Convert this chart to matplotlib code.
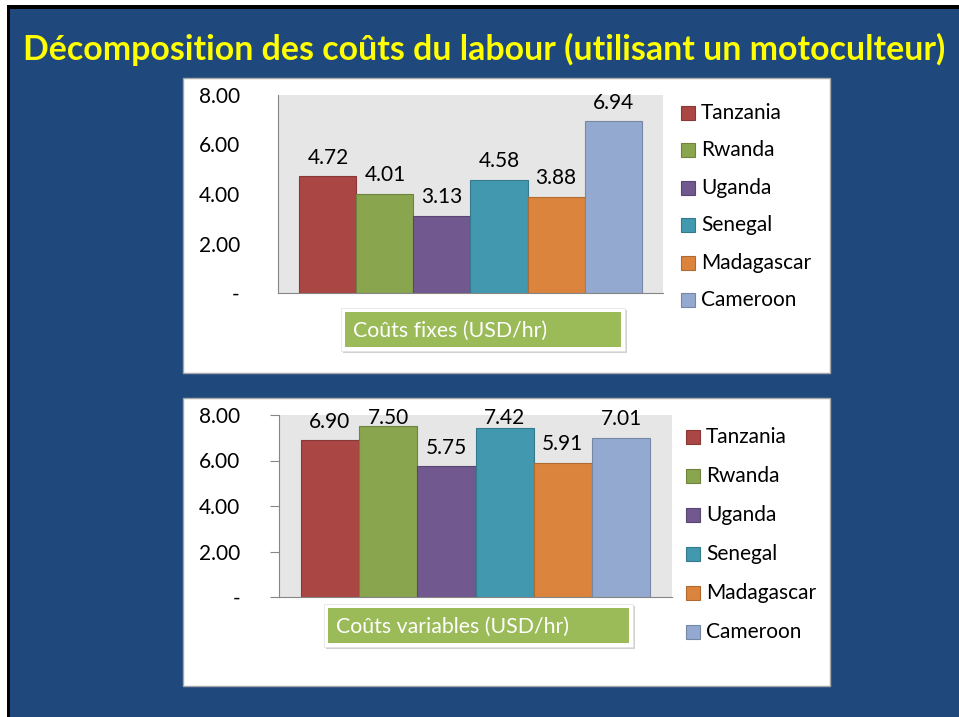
import matplotlib
matplotlib.use("Agg")
import matplotlib.pyplot as plt
from matplotlib.patches import Rectangle
import matplotlib.colors as mcolors

plt.rcParams['font.family'] = ['Lato', 'DejaVu Sans']

countries = ['Tanzania', 'Rwanda', 'Uganda', 'Senegal', 'Madagascar', 'Cameroon']
fixed_costs = [4.72, 4.01, 3.13, 4.58, 3.88, 6.94]
variable_costs = [6.90, 7.50, 5.75, 7.42, 5.91, 7.01]
colors = ['#AA4643', '#89A54E', '#71588F', '#4198AF', '#DB843D', '#93A9CF']
ytick_vals = [0, 2, 4, 6, 8]
ytick_labels = ['-', '2.00', '4.00', '6.00', '8.00']
title = 'Décomposition des coûts du labour (utilisant un motoculteur)'

W, H = 959, 717
BG = '#1F497D'
GREEN = '#9BBB59'

fig = plt.figure(figsize=(W / 100, H / 100), dpi=100, facecolor=BG)


def px_rect(x0, y0, x1, y1, **kw):
    r = Rectangle((x0 / W, 1 - y1 / H), (x1 - x0) / W, (y1 - y0) / H,
                  transform=fig.transFigure, **kw)
    fig.add_artist(r)
    return r


def darker(c, f=0.8):
    r, g, b = mcolors.to_rgb(c)
    return (r * f, g * f, b * f)


# slide frame
px_rect(0, 0, W, 5, facecolor='white', edgecolor='none', zorder=-3)
px_rect(0, 0, 7, H, facecolor='white', edgecolor='none', zorder=-3)
px_rect(7, 5, W, 9, facecolor='black', edgecolor='none', zorder=-2)
px_rect(7, 5, 10, H, facecolor='black', edgecolor='none', zorder=-2)

fig.text(484 / W, 1 - 49 / H, title, color='#FFFF00', fontsize=24.4,
         fontweight='bold', ha='center', va='center')


def chart(panel, plot, values, label_box, label_text, legend_pos, ticks):
    px_rect(*panel, facecolor='white', edgecolor='#A6A6A6', linewidth=1, zorder=-1)
    x0, y0, x1, y1 = plot
    ax = fig.add_axes([x0 / W, 1 - y1 / H, (x1 - x0) / W, (y1 - y0) / H])
    ax.set_facecolor('#E6E6E6')
    xs = range(len(values))
    ax.bar(xs, values, width=1.0, color=colors,
           edgecolor=[darker(c) for c in colors], linewidth=0.8)
    ax.set_xlim(-0.875, len(values) - 0.125)
    ax.set_ylim(0, 8)
    ppu = (y1 - y0) / 8.0
    for x, v in zip(xs, values):
        ly = min(v + 18.5 / ppu, 8 - 2.5 / ppu)
        ax.text(x, ly, '%.2f' % v, ha='center', va='center', fontsize=15,
                color='black')
    ax.set_yticks(ytick_vals)
    ax.set_yticklabels(ytick_labels)
    ax.set_xticks([])
    for s in ['top', 'right']:
        ax.spines[s].set_visible(False)
    for s in ['left', 'bottom']:
        ax.spines[s].set_color('#868686')
    if ticks:
        ax.tick_params(axis='y', length=6.5, color='#868686', pad=21.5, labelsize=15)
    else:
        ax.tick_params(axis='y', length=0, pad=27.5, labelsize=15)
    for t in ax.get_yticklabels():
        t.set_ha('right')

    # caption box
    bx0, by0, bx1, by1 = label_box
    px_rect(bx0 - 2, by0 - 2, bx1 + 6, by1 + 6, facecolor='#D0D0D0',
            edgecolor='none', zorder=1)
    px_rect(bx0 - 4, by0 - 4, bx1 + 4, by1 + 4, facecolor='white',
            edgecolor='#E0E0E0', linewidth=0.5, zorder=2)
    px_rect(bx0, by0, bx1, by1, facecolor=GREEN, edgecolor='none', zorder=3)
    fig.text((bx0 + 8) / W, 1 - ((by0 + by1) / 2 + 1) / H, label_text,
             color='white', fontsize=15.3, ha='left', va='center', zorder=4)

    # legend
    mx, ty, step, tx = legend_pos
    for i, (name, c) in enumerate(zip(countries, colors)):
        cy = ty + i * step
        px_rect(mx, cy - 7, mx + 14, cy + 7, facecolor=c, edgecolor=darker(c),
                linewidth=0.8, zorder=3)
        fig.text(tx / W, 1 - cy / H, name, fontsize=15, color='black',
                 ha='left', va='center')


chart((183, 78, 830, 373), (278, 95, 663, 293), fixed_costs,
      (345, 312, 621, 347), 'Coûts fixes (USD/hr)', (681, 113, 37.4, 701), False)
chart((183, 398, 830, 686), (279, 415, 672, 597), variable_costs,
      (328, 608, 629, 643), 'Coûts variables (USD/hr)', (686, 437, 39.0, 706), True)

fig.savefig('out.png', dpi=100, facecolor=BG)
